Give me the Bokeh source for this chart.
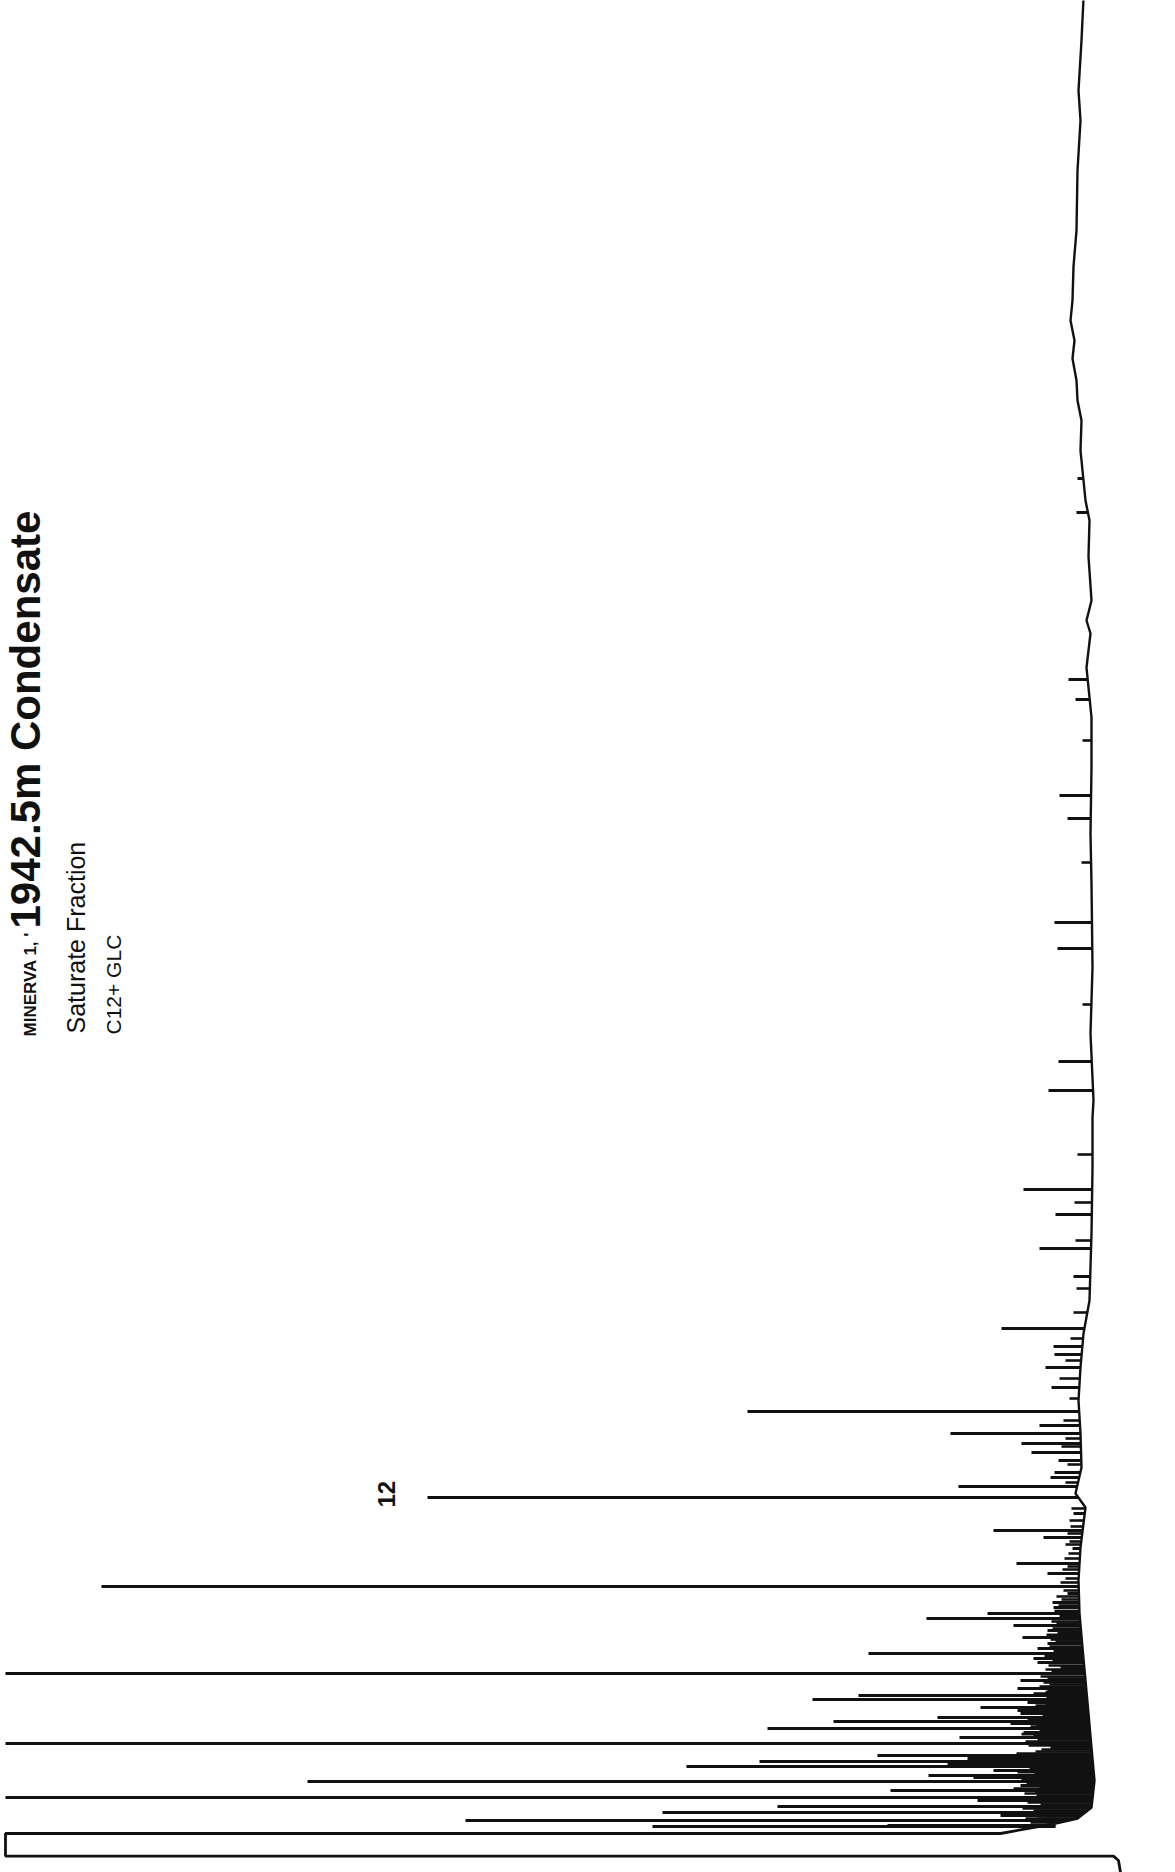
import numpy as np
from bokeh.plotting import figure
from bokeh.models import Range1d, Label
from bokeh.embed import file_html
from bokeh.resources import INLINE

# Retention time (min, increasing upward) and detector signal (mV) of the baseline trace
base_time = [2.05, 2.3, 2.85, 4.2, 5.85, 7.55, 9.2, 10.85, 12.55, 14.2, 15.85, 17.85, 18.55,
             19.85, 21.55, 23.2, 24.85, 26.55, 28.2, 31.55, 34.85, 37.35, 38.2, 41.55,
             44.85, 49.05, 51.55, 54.85, 57.35, 59.85, 61.55, 62.2, 63.2, 65.4, 67.2, 68.2,
             69.2, 70.7, 72.2, 73.2, 74.2, 75.3, 76.2, 77.2, 78.2, 79.9, 81.7, 84.7, 87.2,
             88.7, 91.2, 93.3]
base_signal = [3.0, 0.8, -0.6, -0.9, -0.6, -0.3, 0.0, 0.3, 0.6, 0.7, 0.5, 0.0, 1.0,
               0.4, 0.5, 0.7, 0.5, 0.2, -0.4, -0.6, -0.7, -0.7, -0.8, -0.5,
               -0.7, -0.6, -0.5, -0.6, -0.6, -0.1, -0.5, -0.1, -0.6, -0.3, -0.4, 0.0,
               0.2, 0.5, 0.4, 0.8, 0.9, 1.3, 1.1, 1.5, 1.3, 1.2, 0.9, 0.8, 0.5,
               0.7, 0.4, 0.2]

# Resolved peaks: apex retention time and apex signal (108 = pen off scale)
peak_time = [1.90, 1.95, 2.20, 2.45, 2.60, 2.90, 3.20, 3.35, 3.70, 3.95, 4.15, 4.35,
             4.45, 4.70, 4.90, 5.05, 5.15, 5.30, 5.45, 5.85, 6.05, 6.35, 6.60, 6.80,
             7.05, 7.15, 7.35, 7.55, 7.70, 7.85, 8.05, 8.10, 8.25, 8.45, 8.70, 8.80,
             9.20, 9.55, 9.85, 10.10, 10.30, 10.55, 10.80, 11.05, 11.35, 11.70, 11.95,
             12.30, 12.55, 12.85, 13.10, 13.55, 13.90, 14.55, 15.05, 15.80, 16.35,
             16.70, 17.55, 18.35, 18.90, 19.35, 19.60, 20.20, 20.60, 21.05, 21.55,
             21.95, 22.65, 23.85, 24.85, 25.50, 25.90, 26.80, 29.40, 30.80, 32.50,
             33.75, 38.70, 40.15, 45.80, 47.10, 52.30, 53.45, 58.25, 59.25, 67.6, 69.3]
peak_signal = [43.3, 19.8, 62.0, 8.5, 42.3, 30.8, 10.8, 108.0, 19.5, 6.5, 77.8, 11.2,
               15.7, 9.2, 39.9, 13.8, 32.6, 11.8, 20.8, 3.5, 108.0, 12.6, 6.2, 31.8,
               7.5, 25.2, 14.8, 6.5, 6.8, 10.5, 4.0, 5.8, 27.3, 22.7, 3.8, 6.8,
               6.5, 108.0, 2.5, 4.8, 5.2, 21.7, 4.8, 3.8, 6.3, 3.8, 7.2,
               15.9, 9.8, 3.2, 3.3, 1.8, 98.4, 3.8, 6.9, 1.3, 4.2,
               9.2, 1.2, 65.8, 12.7, 3.5, 3.1, 2.7, 5.4, 6.4, 13.5,
               4.6, 33.8, 3.4, 4.0, 3.1, 3.2, 8.4, 1.2, 4.6, 3.0,
               6.2, 3.7, 2.7, 2.8, 3.1, 1.8, 2.6, 1.0, 1.7, 0.9, 0.8]

# Minor, poorly resolved peaks (unresolved hump of the early part of the run)
minor_time = [2.10, 2.30, 2.40, 2.52, 2.70, 2.80, 3.00, 3.10, 3.28, 3.45,
              3.55, 3.62, 3.80, 3.88, 4.05, 4.25, 4.55, 4.62, 4.80, 4.98,
              5.22, 5.38, 5.55, 5.65, 5.75, 5.95, 6.15, 6.25, 6.45, 6.52,
              6.70, 6.90, 6.98, 7.25, 7.45, 7.62, 7.78, 7.95, 8.18, 8.35,
              8.55, 8.62, 8.90, 9.00, 9.10, 9.30, 9.40, 9.68, 9.75, 9.95,
              10.20, 10.42, 10.68, 10.90, 11.15, 11.25, 11.48, 11.58, 11.80, 12.05,
              12.15, 12.42, 12.68, 12.95, 13.25, 13.40, 13.70, 14.10, 14.30, 14.75,
              14.90, 15.30, 15.55, 16.00, 16.15, 16.55, 16.90, 17.20, 17.80,
              19.1, 20.0, 20.9, 21.3, 22.2, 23.3, 24.3, 25.2, 26.3, 27.6, 28.8,
              31.2, 33.1, 35.5, 43.0, 50.1, 56.2]
minor_signal = [5.5, 6.0, 4.8, 7.0, 5.2, 6.3, 4.5, 5.8, 6.6, 4.9,
                6.1, 5.0, 7.2, 4.6, 5.9, 6.4, 5.1, 6.8, 5.6, 4.7,
                6.2, 5.3, 6.9, 5.0, 4.4, 5.7, 6.0, 4.8, 5.2, 6.4,
                4.6, 5.5, 4.9, 5.8, 4.3, 5.6, 4.1, 5.0, 4.4, 3.9,
                5.2, 4.0, 4.6, 3.6, 4.2, 3.8, 4.5, 3.4, 4.0, 3.7,
                3.3, 4.1, 3.2, 3.6, 3.0, 3.5, 3.9, 2.8, 3.3, 2.9,
                3.4, 2.6, 3.1, 2.7, 2.4, 2.9, 2.2, 2.5, 2.0, 2.3,
                1.8, 2.1, 1.7, 2.0, 1.6, 1.8, 1.5, 1.6, 1.4,
                2.0, 1.8, 2.4, 2.0, 2.2, 1.6, 2.6, 2.0, 1.5, 1.2, 0.9,
                1.0, 1.1, 0.8, 0.3, 0.4, 0.3]

# Solvent front (off scale) and the pen return at injection
solvent_time = [2.05, 1.55, 1.55, 0.42, 0.42, 0.2, -0.4]
solvent_signal = [3.0, 8.5, 108.0, 108.0, -2.8, -3.3, -3.5]

title_main = "1942.5m Condensate"
title_well = "MINERVA 1, '"
subtitle_1 = "Saturate Fraction"
subtitle_2 = "C12+ GLC"
peak_label = "12"

p = figure(width=1175, height=1872, output_backend="svg", toolbar_location=None,
           x_range=Range1d(108.5, -9.0), y_range=Range1d(-0.4, 93.2),
           x_axis_type=None, y_axis_type=None, min_border=0)
p.grid.visible = False
p.outline_line_color = None
p.background_fill_color = "white"

ink = "#111111"
p.line(x=base_signal, y=base_time, line_color=ink, line_width=2.4)
p.line(x=solvent_signal, y=solvent_time, line_color=ink, line_width=2.8)

minor_foot = np.interp(minor_time, base_time, base_signal)
p.segment(x0=minor_foot, y0=minor_time, x1=minor_signal, y1=minor_time,
          line_color=ink, line_width=2.6)

foot = np.interp(peak_time, base_time, base_signal)
p.segment(x0=foot, y0=peak_time, x1=peak_signal, y1=peak_time,
          line_color=ink, line_width=3.0)

font = "Liberation Sans"
p.add_layout(Label(x=106.0, y=46.8, text=title_main, angle=np.pi / 2,
                   text_font=font, text_font_style="bold", text_font_size="42px",
                   text_align="left", text_baseline="alphabetic", text_color=ink))
p.add_layout(Label(x=105.5, y=41.4, text=title_well, angle=np.pi / 2,
                   text_font=font, text_font_style="bold", text_font_size="17px",
                   text_align="left", text_baseline="alphabetic", text_color=ink))
p.add_layout(Label(x=101.0, y=41.55, text=subtitle_1, angle=np.pi / 2,
                   text_font=font, text_font_size="25px",
                   text_align="left", text_baseline="alphabetic", text_color=ink))
p.add_layout(Label(x=97.2, y=41.5, text=subtitle_2, angle=np.pi / 2,
                   text_font=font, text_font_size="21px",
                   text_align="left", text_baseline="alphabetic", text_color=ink))
p.add_layout(Label(x=69.9, y=17.85, text=peak_label, angle=np.pi / 2,
                   text_font=font, text_font_style="bold", text_font_size="24px",
                   text_align="left", text_baseline="alphabetic", text_color=ink))

open("out.html", "w").write(file_html(p, INLINE))
